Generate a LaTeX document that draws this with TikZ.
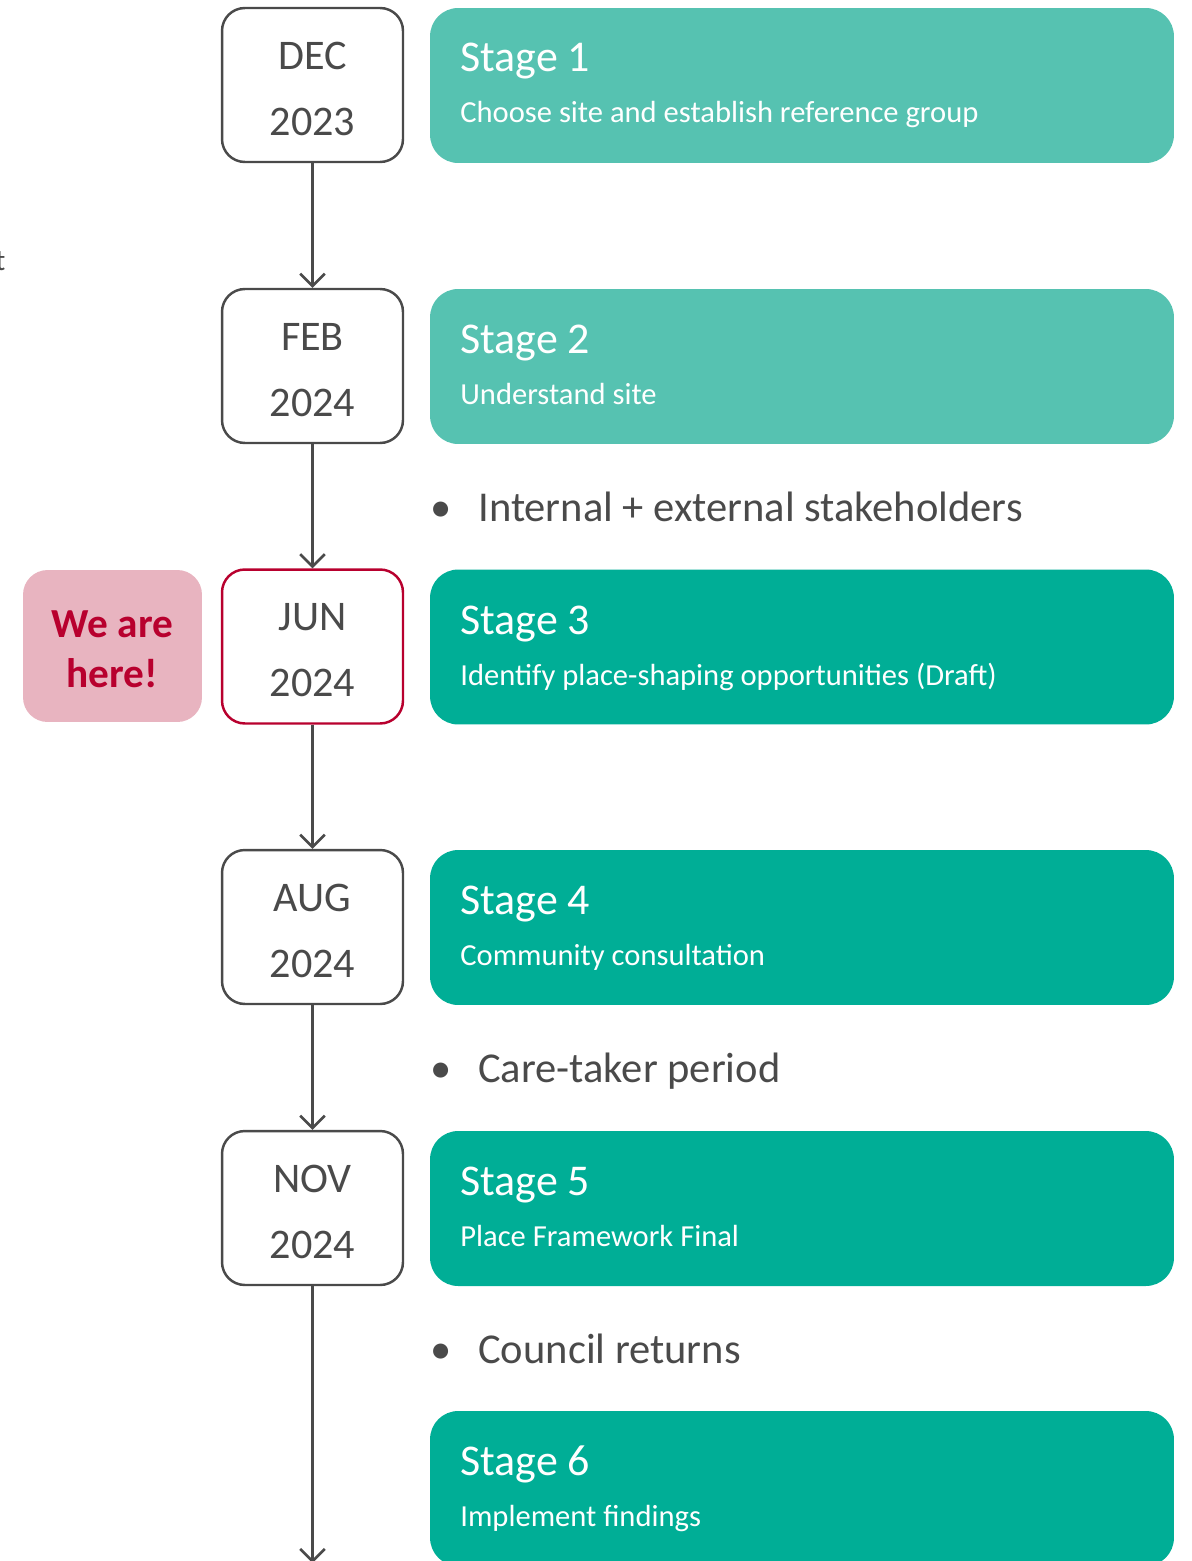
\documentclass[tikz,border=0pt]{standalone}
\usepackage{fontspec}
\setmainfont{Carlito}
\usetikzlibrary{arrows.meta}

\definecolor{lightteal}{HTML}{56C2B1}
\definecolor{darkteal}{HTML}{00AE96}
\definecolor{herepink}{HTML}{E8B4C0}
\definecolor{herered}{HTML}{B8002E}
\definecolor{textgray}{HTML}{4A4A4A}

% taller first line, pushes the two lines down a little
\newcommand{\toppad}[1]{\rule{0pt}{#1}}

\tikzset{
  datebox/.style={draw=textgray, line width=1.4pt, rounded corners=13pt, fill=white,
    minimum width=3.62cm, minimum height=3.08cm, align=center, text=textgray,
    font=\fontsize{24}{37.4}\selectfont},
  herebox/.style={fill=herepink, rounded corners=14pt, minimum width=3.58cm,
    minimum height=3.04cm, align=center, text=herered,
    font=\bfseries\fontsize{23.5}{28.3}\selectfont},
  stagebox/.style={rounded corners=16pt, minimum width=14.88cm, minimum height=3.1cm},
  stagetitle/.style={anchor=base west, inner sep=0pt, text=white,
    font=\fontsize{25}{30}\selectfont},
  stagetext/.style={anchor=base west, inner sep=0pt, text=white,
    font=\fontsize{17.4}{21}\selectfont},
  notetext/.style={anchor=base west, inner sep=0pt, text=textgray,
    font=\fontsize{24.2}{29}\selectfont},
  timearrow/.style={draw=textgray, line width=1.5pt,
    -{Straight Barb[length=7pt,width=14pt]}}
}

\begin{document}
\begin{tikzpicture}[x=0.02cm, y=-0.02cm]
    % Frame
    \useasboundingbox (0,0) rectangle (1192,1561);
    \clip (0,0) rectangle (1192,1561);

    % Cut-off text at the left edge
    \node[notetext, font=\fontsize{17}{20}\selectfont] (cut) at (-5,270) {t};

    % Dates
    \node[datebox] (dec) at (312.5,85) {\toppad{19.8pt}DEC\\2023};
    \node[datebox] (feb) at (312.5,366) {\toppad{19.8pt}FEB\\2024};
    \node[datebox, draw=herered] (jun) at (312.5,646.5) {\toppad{19.8pt}JUN\\2024};
    \node[datebox] (aug) at (312.5,927) {\toppad{19.8pt}AUG\\2024};
    \node[datebox] (nov) at (312.5,1208) {\toppad{19.8pt}NOV\\2024};
    \coordinate (end) at (312.5,1563);

    % Marker
    \node[herebox] (here) at (112.5,646) {\toppad{18.9pt}We are\\here!};

    % Stages
    \node[stagebox, fill=lightteal] (s1) at (802,85.5) {};
    \node[stagetitle] (s1title) at (460,72) {Stage 1};
    \node[stagetext] (s1text) at (460,123) {Choose site and establish reference group};

    \node[stagebox, fill=lightteal] (s2) at (802,366.5) {};
    \node[stagetitle] (s2title) at (460,353) {Stage 2};
    \node[stagetext] (s2text) at (460,404) {Understand site};

    \node[stagebox, fill=darkteal] (s3) at (802,647) {};
    \node[stagetitle] (s3title) at (460,634) {Stage 3};
    \node[stagetext] (s3text) at (460,685) {Identify place-shaping opportunities (Draft)};

    \node[stagebox, fill=darkteal] (s4) at (802,927.5) {};
    \node[stagetitle] (s4title) at (460,914) {Stage 4};
    \node[stagetext] (s4text) at (460,965) {Community consultation};

    \node[stagebox, fill=darkteal] (s5) at (802,1208.5) {};
    \node[stagetitle] (s5title) at (460,1195) {Stage 5};
    \node[stagetext] (s5text) at (460,1246) {Place Framework Final};

    \node[stagebox, fill=darkteal] (s6) at (802,1488.5) {};
    \node[stagetitle] (s6title) at (460,1475) {Stage 6};
    \node[stagetext] (s6text) at (460,1526) {Implement findings};

    % Notes
    \node[notetext] (n1) at (430,521) {\makebox[0.96cm][l]{\textbullet}Internal + external stakeholders};
    \node[notetext] (n2) at (430,1082) {\makebox[0.96cm][l]{\textbullet}Care-taker period};
    \node[notetext] (n3) at (430,1363) {\makebox[0.96cm][l]{\textbullet}Council returns};

    % Arrows
    \draw[timearrow] (dec) -- (feb);
    \draw[timearrow] (feb) -- (jun);
    \draw[timearrow] (jun) -- (aug);
    \draw[timearrow] (aug) -- (nov);
    \draw[timearrow] (nov) -- (end);
\end{tikzpicture}
\end{document}
